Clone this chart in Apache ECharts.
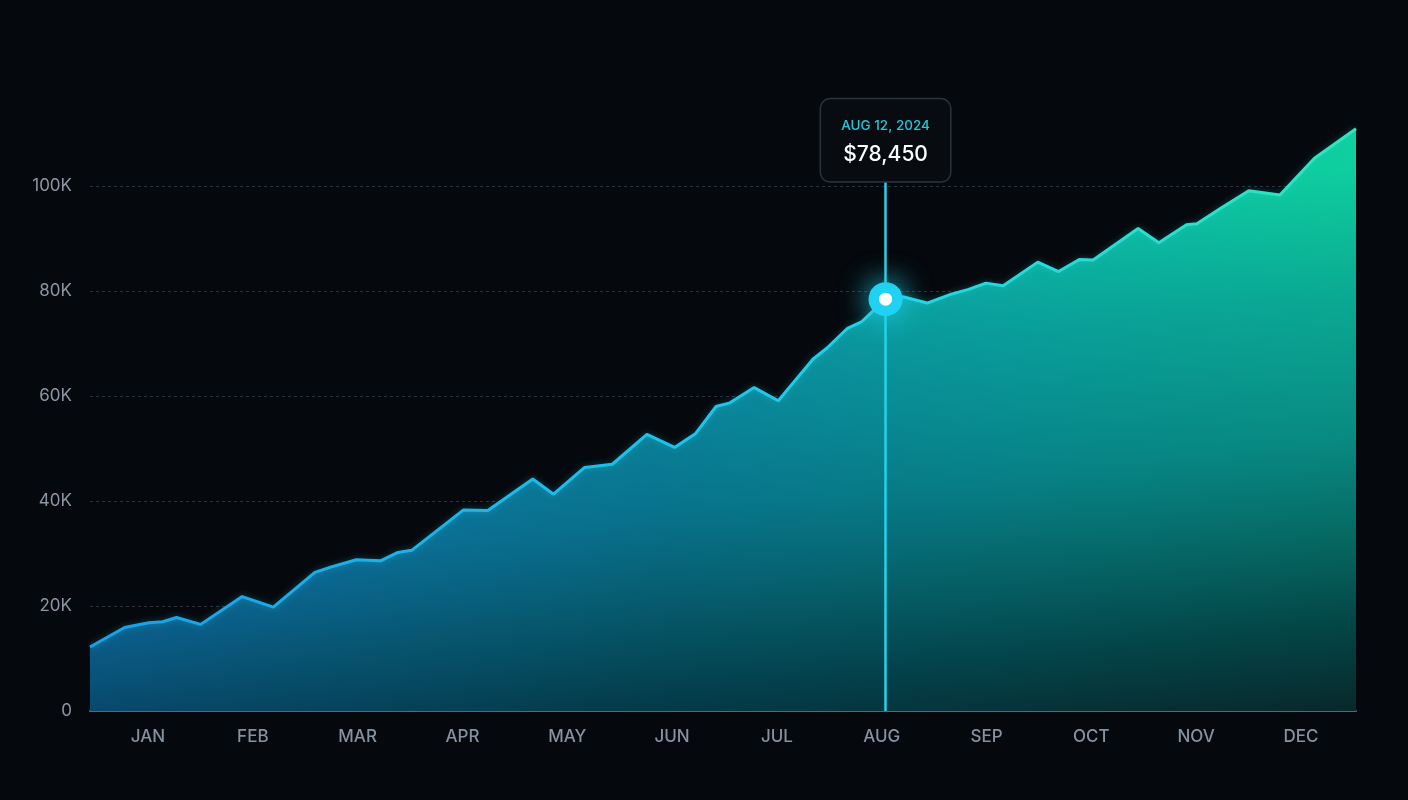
<!DOCTYPE html>
<html>
<head>
<meta charset="utf-8">
<script src="https://cdn.jsdelivr.net/npm/echarts@6/dist/echarts.min.js"></script>
<style>
  html, body { margin: 0; padding: 0; background: #05080c; }
  #chart { width: 1408px; height: 800px; }
</style>
</head>
<body>
<div id="chart"></div>
<script>
// day of year (0 = Jan 1) and balance for each point
var days = [0, 10, 17, 21, 25, 32, 44, 53, 65, 70, 77, 84, 89, 93, 108, 115, 128, 134, 143, 151,
  161, 169, 175, 181, 185, 192, 199, 202, 209, 213, 219, 223, 230, 235, 242, 249, 254, 259, 264,
  274, 280, 286, 290, 303, 309, 317, 320, 327, 335, 344, 354, 366];
var values = [12200, 15900, 16800, 17000, 17800, 16500, 21800, 19800, 26400, 27500, 28800, 28600,
  30200, 30600, 38300, 38200, 44200, 41300, 46400, 47000, 52700, 50200, 52800, 58000, 58700,
  61600, 59100, 61500, 67000, 69100, 72900, 74100, 78450, 78900, 77700, 79400, 80300, 81500,
  81000, 85500, 83700, 86000, 85900, 91900, 89200, 92600, 92800, 95800, 99100, 98300, 105300,
  110900];
var months = ['JAN', 'FEB', 'MAR', 'APR', 'MAY', 'JUN', 'JUL', 'AUG', 'SEP', 'OCT', 'NOV', 'DEC'];
var yTicks = [0, 20000, 40000, 60000, 80000, 100000];

// highlighted point
var hlIndex = 32;
var hlLabel = 'AUG 12, 2024';

var chart = echarts.init(document.getElementById('chart'), null, { renderer: 'canvas' });

var points = days.map(function (d, i) { return [d, values[i]]; });
var hlDay = days[hlIndex];
var hlValue = values[hlIndex];
var tipBottom = 100800; // where the callout box sits

var font = 'Inter, "Noto Sans", sans-serif';

var option = {
  backgroundColor: '#05080c',
  animation: false,
  grid: [
    { left: 90, right: 52, top: 81, bottom: 89 },
    // month labels sit a little inside the plot edges
    { left: 95.6, right: 54.6, top: 81, bottom: 89 }
  ],
  xAxis: [
    {
      type: 'value',
      gridIndex: 0,
      min: 0,
      max: 366,
      axisLine: { show: true, lineStyle: { color: '#56677a', width: 2 } },
      axisTick: { show: false },
      axisLabel: { show: false },
      splitLine: { show: false }
    },
    {
      type: 'category',
      gridIndex: 1,
      data: months,
      boundaryGap: true,
      axisLine: { show: false },
      axisTick: { show: false },
      axisLabel: { color: '#8592a1', fontSize: 17, fontFamily: font, fontWeight: 500, margin: 17 },
      splitLine: { show: false }
    }
  ],
  yAxis: [
    {
      type: 'value',
      gridIndex: 0,
      min: 0,
      max: 120000,
      interval: 20000,
      axisLine: { show: false },
      axisTick: { show: false },
      axisLabel: {
        showMaxLabel: false,
        color: '#8d97a3',
        fontSize: 17,
        fontFamily: font,
        margin: 18,
        formatter: function (v) {
          if (yTicks.indexOf(v) < 0) return '';
          return v === 0 ? '0' : (v / 1000) + 'K';
        }
      },
      splitLine: {
        show: true,
        showMinLine: false,
        showMaxLine: false,
        lineStyle: { color: '#2a323c', type: [3, 3], width: 1 }
      }
    },
    { type: 'value', gridIndex: 1, show: false, splitLine: { show: false } }
  ],
  series: [
    {
      // base fill, blue to green across the year
      type: 'line',
      data: points,
      symbol: 'none',
      silent: true,
      lineStyle: { width: 0, opacity: 0 },
      areaStyle: {
        opacity: 1,
        color: new echarts.graphic.LinearGradient(0, 0, 1, 0, [
          { offset: 0, color: '#1694d8' },
          { offset: 0.45, color: '#0ea2b0' },
          { offset: 0.75, color: '#0cbfa8' },
          { offset: 1, color: '#0ecf9e' }
        ])
      },
      z: 1
    },
    {
      // darkening toward the bottom (a bit stronger on the right) + the line itself
      type: 'line',
      data: points,
      symbol: 'none',
      lineStyle: {
        width: 3,
        color: new echarts.graphic.LinearGradient(0, 0, 1, 0, [
          { offset: 0, color: '#1a9fe8' },
          { offset: 0.5, color: '#1ec6ea' },
          { offset: 0.65, color: '#22d6e6' },
          { offset: 1, color: '#30e6b4' }
        ]),
        shadowBlur: 6,
        shadowColor: 'rgba(34,211,238,0.35)'
      },
      areaStyle: {
        opacity: 1,
        color: new echarts.graphic.LinearGradient(0, 0, 0.065, 1.234, [
          { offset: 0.25, color: 'rgba(0,60,110,0)' },
          { offset: 0.43, color: 'rgba(0,60,110,0.255)' },
          { offset: 0.62, color: 'rgba(0,50,90,0.43)' },
          { offset: 0.75, color: 'rgba(0,40,60,0.6)' },
          { offset: 0.87, color: 'rgba(0,30,45,0.76)' },
          { offset: 1, color: 'rgba(8,25,32,0.92)' }
        ])
      },
      markLine: {
        silent: true,
        symbol: 'none',
        label: { show: false },
        lineStyle: { color: '#22d3ee', width: 2.5, type: 'solid' },
        data: [[{ coord: [hlDay, 0] }, { coord: [hlDay, tipBottom] }]]
      },
      markPoint: {
        silent: true,
        data: [
          {
            coord: [hlDay, hlValue],
            symbol: 'circle',
            symbolSize: 34,
            itemStyle: { color: '#1fd2f2', shadowBlur: 30, shadowColor: '#22d3ee' },
            label: { show: false }
          },
          {
            coord: [hlDay, hlValue],
            symbol: 'circle',
            symbolSize: 13,
            itemStyle: { color: '#ffffff' },
            label: { show: false }
          },
          {
            coord: [hlDay, tipBottom],
            symbol: 'rect',
            symbolSize: 1,
            itemStyle: { color: 'rgba(0,0,0,0)' },
            label: {
              show: true,
              position: 'top',
              distance: 0,
              formatter: '{d|' + hlLabel + '}\n{v|$' + hlValue.toLocaleString('en-US') + '}',
              backgroundColor: '#080c11',
              borderColor: '#2c333c',
              borderWidth: 1.5,
              borderRadius: 9,
              padding: [13, 20, 11, 20],
              width: 89,
              align: 'center',
              rich: {
                d: { color: '#22c8da', fontSize: 13.5, fontFamily: font, fontWeight: 500, lineHeight: 27, align: 'center' },
                v: { color: '#ffffff', fontSize: 21, fontFamily: font, fontWeight: 500, lineHeight: 31, align: 'center' }
              }
            }
          }
        ]
      },
      z: 2
    }
  ]
};

chart.setOption(option);
</script>
</body>
</html>
